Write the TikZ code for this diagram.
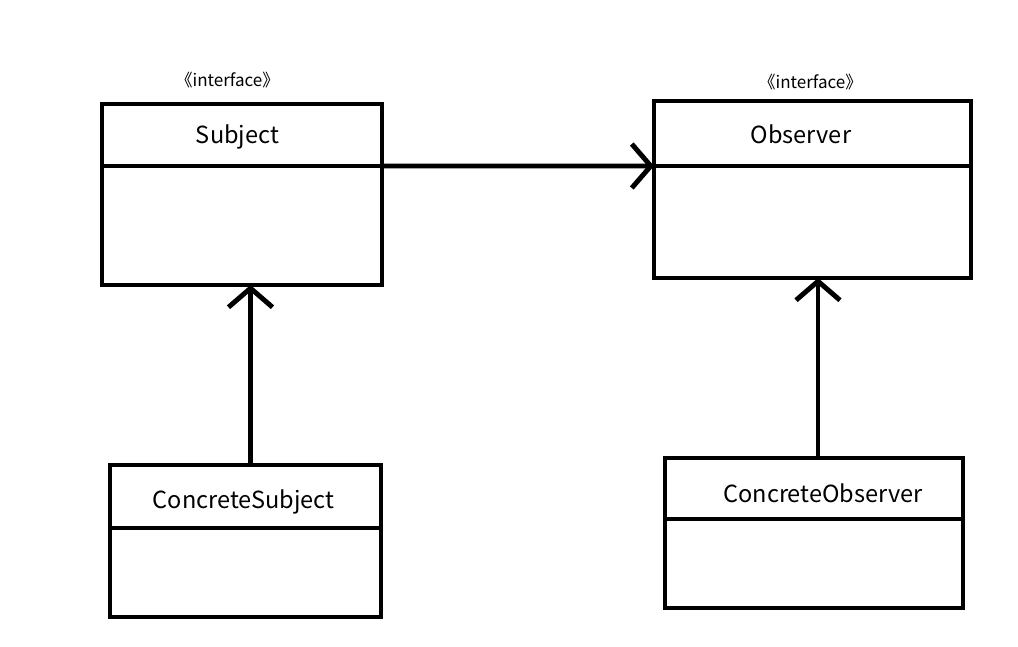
\documentclass[tikz,border=0pt]{standalone}
\usepackage{fontspec}
\setmainfont{Noto Sans CJK SC}
\usetikzlibrary{arrows.meta,positioning}

\begin{document}
\begin{tikzpicture}[
    x=0.02cm, y=-0.02cm,
    classhead/.style={rectangle, draw=black, line width=2.8pt, outer sep=0pt, inner sep=0pt},
    classbody/.style={rectangle, draw=black, line width=2.8pt, outer sep=0pt,
                      inner sep=0pt, anchor=north},
    classname/.style={font=\fontsize{13.4}{16}\selectfont, inner sep=0pt},
    stereo/.style={font=\fontsize{9.7}{12}\selectfont, inner sep=0pt},
    arr/.style={-{Straight Barb[length=0.38cm, width=0.88cm]}, line width=2.8pt, black}
  ]
    \useasboundingbox (0,0) rectangle (1018,646);

    % Subject interface
    \node[classhead, minimum width=5.6cm, minimum height=1.24cm] (subjHead) at (242,135) {};
    \node[classbody, minimum width=5.6cm, minimum height=2.38cm] (subjBody) at (subjHead.south) {};
    \node[stereo] (subjTag) at (227.5,80) {《interface》};
    \node[classname] (subjName) at (237.5,136.5) {Subject};

    % Observer interface
    \node[classhead, minimum width=6.34cm, minimum height=1.3cm] (obsHead) at (812.5,133.5) {};
    \node[classbody, minimum width=6.34cm, minimum height=2.24cm] (obsBody) at (obsHead.south) {};
    \node[stereo] (obsTag) at (810.5,82) {《interface》};
    \node[classname] (obsName) at (801,134) {Observer};

    % ConcreteSubject
    \node[classhead, minimum width=5.42cm, minimum height=1.26cm] (csHead) at (245.5,496.5) {};
    \node[classbody, minimum width=5.42cm, minimum height=1.78cm] (csBody) at (csHead.south) {};
    \node[classname] (csName) at (243.5,502) {ConcreteSubject};

    % ConcreteObserver
    \node[classhead, minimum width=5.96cm, minimum height=1.22cm] (coHead) at (814,488.5) {};
    \node[classbody, minimum width=5.96cm, minimum height=1.78cm] (coBody) at (coHead.south) {};
    \node[classname] (coName) at (823,493) {ConcreteObserver};

    \draw[arr] (subjHead.south east) -- (obsHead.south west);
    \draw[arr] ([xshift=0.1cm]csHead.north) -- ([xshift=0.1cm]csHead.north |- subjBody.south);
    \draw[arr] ([xshift=0.08cm]coHead.north) -- ([xshift=0.08cm]coHead.north |- obsBody.south);
\end{tikzpicture}
\end{document}
